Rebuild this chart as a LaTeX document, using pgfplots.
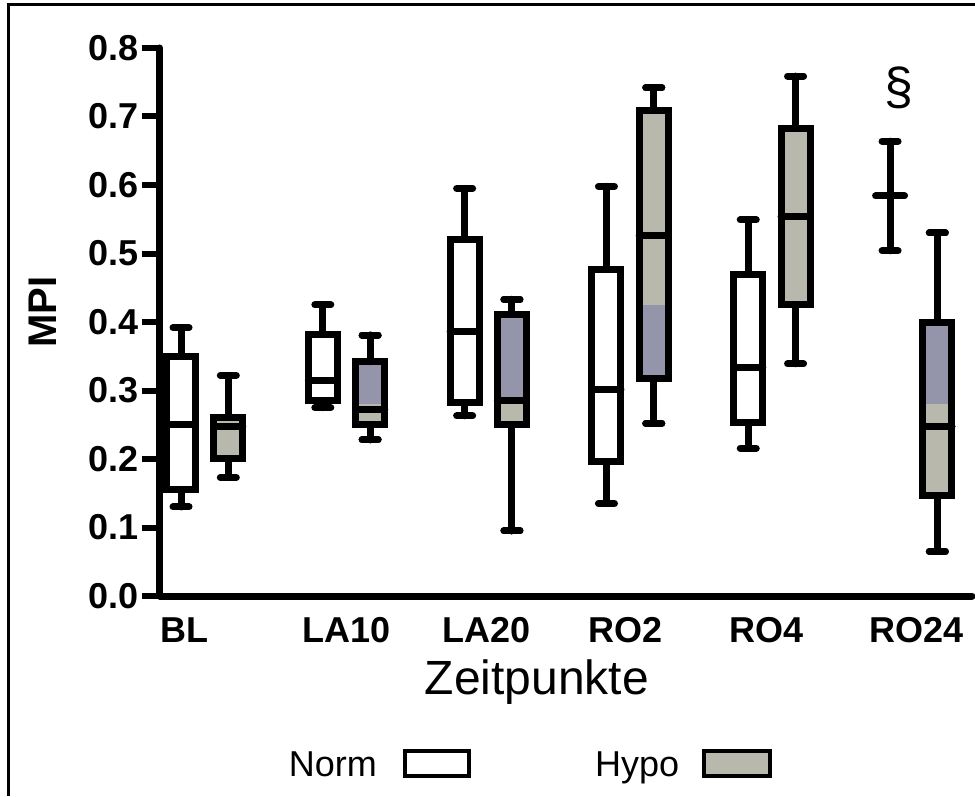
\documentclass[border=0pt]{standalone}
\usepackage{pgfplots}
\pgfplotsset{compat=1.18}
\usepackage{fontspec}
\setmainfont{Liberation Sans}
\definecolor{hgray}{RGB}{184,184,172}
\definecolor{hpurple}{RGB}{148,148,170}
\newcommand{\bigbold}{\fontsize{36}{40}\selectfont\bfseries}
\pgfplotsset{
  bpl/.style={black, line width=7pt, line cap=round, line join=miter, solid, mark=none, forget plot},
}
% box: #1 position, #2 lower whisker, #3 lower quartile, #4 median, #5 upper quartile, #6 upper whisker, #7 fill
\newcommand{\bbox}[7]{%
  \pgfmathsetmacro\xl{#1-0.10225}%
  \pgfmathsetmacro\xr{#1+0.10225}%
  \pgfmathsetmacro\cl{#1-0.0565}%
  \pgfmathsetmacro\cr{#1+0.0565}%
  \addplot[bpl] coordinates {(#1,#2) (#1,#3)};
  \addplot[bpl] coordinates {(#1,#5) (#1,#6)};
  \addplot[bpl] coordinates {(\cl,#2) (\cr,#2)};
  \addplot[bpl] coordinates {(\cl,#6) (\cr,#6)};
  \addplot[bpl, line cap=butt, fill=#7] coordinates {(\xl,#3) (\xr,#3) (\xr,#5) (\xl,#5)} --cycle;
  \addplot[bpl] coordinates {(\xl,#4) (\xr,#4)};
}
\begin{document}
\begin{tikzpicture}
\path[use as bounding box] (-160pt,-200pt) rectangle (815pt,596pt);
\draw[line width=3pt] (-151pt,-200pt) -- (-151pt,591pt) -- (815pt,591pt);
\begin{axis}[
  at={(0pt,0pt)}, anchor=south west,
  scale only axis, width=812pt, height=548pt,
  xmin=-0.315, xmax=5.411, ymin=0, ymax=0.8,
  axis x line*=bottom, axis y line*=left,
  axis line style={line width=7pt, line cap=round},
  clip=false,
  xtick={-0.14,1,1.99,2.97,3.96,5.02},
  xticklabels={BL,LA10,LA20,RO2,RO4,RO24},
  ytick={0,0.1,0.2,0.3,0.4,0.5,0.6,0.7,0.8},
  yticklabels={0.0,0.1,0.2,0.3,0.4,0.5,0.6,0.7,0.8},
  tick align=outside,
  major tick length=18pt,
  xtick style={draw=none},
  ytick style={line width=6pt, black},
  ticklabel style={font=\bigbold},
  /pgf/number format/assume math mode=true,
  every axis y label/.style={at={(axis description cs:-0.144,0.518)}, anchor=center, rotate=90, font=\fontsize{40}{44}\selectfont\bfseries},
  ylabel={MPI},
  every axis x label/.style={at={(axis description cs:0.464,-0.179)}, anchor=base, font=\fontsize{48}{52}\selectfont},
  xlabel={Zeitpunkte},
]
% ---- Norm (white) ----
\bbox{-0.1668}{0.130}{0.156}{0.250}{0.350}{0.392}{white}
\bbox{0.8332}{0.275}{0.285}{0.314}{0.382}{0.425}{white}
\bbox{1.8332}{0.263}{0.282}{0.386}{0.521}{0.595}{white}
\bbox{2.8332}{0.135}{0.196}{0.302}{0.477}{0.598}{white}
\bbox{3.8332}{0.216}{0.253}{0.334}{0.469}{0.549}{white}
\bbox{4.8332}{0.504}{0.584}{0.584}{0.584}{0.664}{white}
% ---- Hypo (grey) ----
\bbox{0.1668}{0.173}{0.201}{0.247}{0.261}{0.322}{hgray}
\bbox{1.1668}{0.228}{0.250}{0.272}{0.342}{0.381}{hgray}
\bbox{2.1668}{0.095}{0.250}{0.286}{0.411}{0.433}{hgray}
\bbox{3.1668}{0.252}{0.317}{0.526}{0.709}{0.742}{hgray}
\bbox{4.1668}{0.339}{0.426}{0.554}{0.682}{0.759}{hgray}
\bbox{5.1668}{0.065}{0.146}{0.247}{0.400}{0.530}{hgray}
% ---- purple band inside Hypo boxes ----
\addplot[fill=hpurple, draw=none, forget plot] coordinates {(1.0645,0.280) (1.2691,0.280) (1.2691,0.342) (1.0645,0.342)} --cycle;
\addplot[fill=hpurple, draw=none, forget plot] coordinates {(2.0645,0.280) (2.2691,0.280) (2.2691,0.411) (2.0645,0.411)} --cycle;
\addplot[fill=hpurple, draw=none, forget plot] coordinates {(3.0645,0.317) (3.2691,0.317) (3.2691,0.425) (3.0645,0.425)} --cycle;
\addplot[fill=hpurple, draw=none, forget plot] coordinates {(5.0645,0.280) (5.2691,0.280) (5.2691,0.400) (5.0645,0.400)} --cycle;
% ---- outlines redrawn over the band ----
\bbox{1.1668}{0.228}{0.250}{0.272}{0.342}{0.381}{none}
\bbox{2.1668}{0.095}{0.250}{0.286}{0.411}{0.433}{none}
\bbox{3.1668}{0.252}{0.317}{0.526}{0.709}{0.742}{none}
\bbox{5.1668}{0.065}{0.146}{0.247}{0.400}{0.530}{none}
\node[font=\fontsize{52}{56}\selectfont] at (axis cs:4.897,0.742) {\S};
\end{axis}
% legend
\node[anchor=base east, inner sep=0pt, font=\fontsize{36}{40}\selectfont] at (217pt,-180pt) {Norm};
\draw[line width=4pt, fill=white] (245pt,-180pt) rectangle (309pt,-155pt);
\node[anchor=base west, inner sep=0pt, font=\fontsize{36}{40}\selectfont] at (435pt,-180pt) {Hypo};
\draw[line width=4pt, fill=hgray] (544pt,-180pt) rectangle (610pt,-155pt);
\end{tikzpicture}
\end{document}
